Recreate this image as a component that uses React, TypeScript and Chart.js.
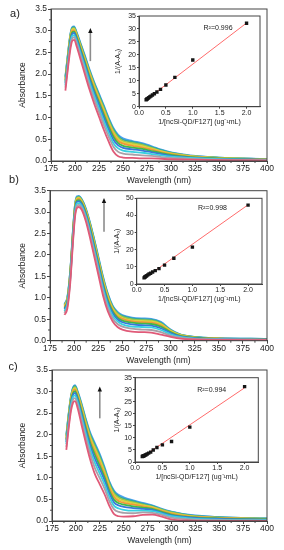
import React, { useEffect, useRef } from 'react';
import { Chart, registerables } from 'chart.js';
Chart.register(...registerables);

const FONT = "'Liberation Sans', Arial, Helvetica, sans-serif";
const INK = '#222222';
const FRAME = '#444444';
const PAGE_W = 284;
const PAGE_H = 550;

// ---------- tick labels ----------
const mainXTicks = [175, 200, 225, 250, 275, 300, 325, 350, 375, 400];
const mainYTicks = [0, 0.5, 1, 1.5, 2, 2.5, 3, 3.5];
const insetXTicks = [0, 0.5, 1, 1.5, 2];
const insetYTicksA = [0, 5, 10, 15, 20, 25, 30, 35];
const insetYTicksB = [0, 10, 20, 30, 40, 50];
const insetYTicksC = [0, 5, 10, 15, 20, 25, 30, 35];

// ---------- panel a spectra ----------
const waveA = [190, 193, 195, 197, 199, 202, 206, 210, 215, 220, 225, 230, 235, 240, 245, 250, 260, 270, 280, 290, 300, 320, 350, 400];
const absA0 = [1.62, 2.20, 2.55, 2.76, 2.79, 2.62, 2.32, 2.02, 1.65, 1.32, 1.02, 0.72, 0.45, 0.22, 0.11, 0.08, 0.07, 0.06, 0.06, 0.05, 0.04, 0.03, 0.02, 0.01];
const absA1 = [1.69, 2.27, 2.62, 2.82, 2.85, 2.69, 2.40, 2.11, 1.74, 1.42, 1.13, 0.83, 0.56, 0.33, 0.21, 0.17, 0.15, 0.13, 0.12, 0.09, 0.07, 0.05, 0.03, 0.02];
const absA2 = [1.74, 2.33, 2.68, 2.88, 2.90, 2.74, 2.46, 2.18, 1.82, 1.50, 1.21, 0.92, 0.65, 0.41, 0.29, 0.24, 0.21, 0.19, 0.16, 0.13, 0.10, 0.07, 0.04, 0.02];
const absA3 = [1.79, 2.38, 2.73, 2.92, 2.95, 2.79, 2.51, 2.24, 1.89, 1.57, 1.29, 1.00, 0.73, 0.49, 0.36, 0.30, 0.27, 0.24, 0.20, 0.16, 0.12, 0.08, 0.05, 0.03];
const absA4 = [1.83, 2.42, 2.77, 2.96, 2.98, 2.83, 2.56, 2.29, 1.94, 1.63, 1.35, 1.07, 0.79, 0.56, 0.41, 0.35, 0.31, 0.28, 0.23, 0.18, 0.14, 0.09, 0.06, 0.03];
const absA5 = [1.86, 2.45, 2.80, 2.99, 3.01, 2.86, 2.59, 2.33, 1.99, 1.68, 1.40, 1.12, 0.85, 0.61, 0.46, 0.40, 0.35, 0.31, 0.26, 0.20, 0.16, 0.10, 0.06, 0.03];
const absA6 = [1.88, 2.48, 2.83, 3.02, 3.04, 2.88, 2.62, 2.36, 2.03, 1.72, 1.44, 1.17, 0.89, 0.65, 0.50, 0.43, 0.38, 0.34, 0.28, 0.22, 0.17, 0.11, 0.07, 0.04];
const absA7 = [1.91, 2.51, 2.86, 3.04, 3.06, 2.91, 2.65, 2.39, 2.06, 1.76, 1.48, 1.21, 0.93, 0.69, 0.54, 0.46, 0.41, 0.37, 0.30, 0.23, 0.18, 0.12, 0.07, 0.04];
const absA8 = [1.93, 2.53, 2.88, 3.06, 3.08, 2.93, 2.68, 2.42, 2.09, 1.79, 1.52, 1.25, 0.97, 0.73, 0.57, 0.49, 0.44, 0.39, 0.32, 0.25, 0.19, 0.12, 0.08, 0.04];
const absA9 = [1.95, 2.55, 2.90, 3.08, 3.10, 2.95, 2.70, 2.45, 2.12, 1.82, 1.55, 1.28, 1.00, 0.76, 0.60, 0.52, 0.46, 0.41, 0.34, 0.26, 0.20, 0.13, 0.08, 0.045];

// ---------- panel b spectra ----------
const waveB = [190, 193, 196, 199, 201, 203, 205, 208, 212, 216, 220, 225, 230, 235, 240, 245, 250, 260, 270, 280, 290, 300, 310, 325, 350, 400];
const absB0 = [0.60, 0.75, 1.35, 2.35, 2.90, 3.10, 3.12, 3.05, 2.80, 2.45, 2.05, 1.55, 1.05, 0.68, 0.45, 0.32, 0.26, 0.21, 0.20, 0.19, 0.14, 0.09, 0.05, 0.03, 0.02, 0.01];
const absB1 = [0.65, 0.80, 1.41, 2.41, 2.96, 3.15, 3.17, 3.10, 2.86, 2.52, 2.13, 1.64, 1.14, 0.76, 0.52, 0.39, 0.33, 0.28, 0.26, 0.25, 0.20, 0.12, 0.07, 0.04, 0.03, 0.02];
const absB2 = [0.69, 0.85, 1.46, 2.46, 3.01, 3.20, 3.21, 3.14, 2.91, 2.58, 2.19, 1.71, 1.21, 0.83, 0.58, 0.45, 0.38, 0.33, 0.32, 0.31, 0.25, 0.15, 0.09, 0.05, 0.03, 0.02];
const absB3 = [0.73, 0.89, 1.50, 2.50, 3.05, 3.24, 3.25, 3.18, 2.95, 2.63, 2.25, 1.77, 1.28, 0.89, 0.64, 0.50, 0.43, 0.38, 0.36, 0.35, 0.29, 0.18, 0.10, 0.06, 0.04, 0.03];
const absB4 = [0.76, 0.92, 1.54, 2.54, 3.09, 3.27, 3.28, 3.21, 2.99, 2.67, 2.30, 1.82, 1.33, 0.94, 0.68, 0.54, 0.47, 0.42, 0.40, 0.39, 0.33, 0.20, 0.11, 0.07, 0.04, 0.03];
const absB5 = [0.79, 0.94, 1.57, 2.57, 3.12, 3.29, 3.31, 3.23, 3.02, 2.70, 2.34, 1.86, 1.37, 0.98, 0.72, 0.57, 0.51, 0.45, 0.43, 0.42, 0.36, 0.21, 0.12, 0.07, 0.05, 0.03];
const absB6 = [0.81, 0.97, 1.59, 2.59, 3.14, 3.32, 3.33, 3.25, 3.04, 2.73, 2.37, 1.89, 1.41, 1.02, 0.75, 0.60, 0.53, 0.47, 0.46, 0.45, 0.38, 0.23, 0.13, 0.08, 0.05, 0.03];
const absB7 = [0.83, 0.99, 1.61, 2.61, 3.16, 3.33, 3.35, 3.27, 3.06, 2.76, 2.40, 1.92, 1.44, 1.05, 0.77, 0.63, 0.56, 0.50, 0.48, 0.47, 0.40, 0.24, 0.14, 0.08, 0.05, 0.04];
const absB8 = [0.84, 1.00, 1.63, 2.63, 3.18, 3.35, 3.36, 3.29, 3.08, 2.78, 2.43, 1.95, 1.47, 1.08, 0.80, 0.65, 0.58, 0.52, 0.50, 0.49, 0.42, 0.25, 0.14, 0.09, 0.06, 0.04];
const absB9 = [0.86, 1.02, 1.65, 2.65, 3.20, 3.37, 3.38, 3.30, 3.10, 2.80, 2.45, 1.98, 1.50, 1.10, 0.82, 0.67, 0.60, 0.54, 0.52, 0.51, 0.44, 0.26, 0.15, 0.09, 0.06, 0.04];

// ---------- panel c spectra ----------
const waveC = [190, 193, 195, 197, 199, 202, 206, 210, 215, 220, 225, 230, 235, 240, 245, 250, 260, 270, 280, 290, 300, 320, 350, 400];
const absC0 = [1.65, 2.25, 2.57, 2.74, 2.78, 2.60, 2.22, 1.85, 1.42, 1.08, 0.85, 0.62, 0.35, 0.16, 0.11, 0.10, 0.11, 0.14, 0.15, 0.10, 0.04, 0.01, 0.00, 0.00];
const absC1 = [1.72, 2.32, 2.64, 2.81, 2.85, 2.68, 2.32, 1.96, 1.55, 1.22, 0.99, 0.75, 0.46, 0.27, 0.21, 0.19, 0.18, 0.20, 0.19, 0.14, 0.08, 0.04, 0.02, 0.01];
const absC2 = [1.78, 2.38, 2.70, 2.87, 2.91, 2.74, 2.40, 2.05, 1.65, 1.34, 1.10, 0.85, 0.56, 0.35, 0.29, 0.26, 0.24, 0.24, 0.23, 0.17, 0.11, 0.06, 0.03, 0.02];
const absC3 = [1.83, 2.43, 2.75, 2.92, 2.97, 2.80, 2.47, 2.13, 1.74, 1.44, 1.20, 0.94, 0.64, 0.43, 0.36, 0.33, 0.30, 0.28, 0.26, 0.19, 0.13, 0.08, 0.05, 0.03];
const absC4 = [1.87, 2.47, 2.79, 2.96, 3.01, 2.85, 2.53, 2.19, 1.81, 1.53, 1.28, 1.01, 0.70, 0.49, 0.41, 0.38, 0.34, 0.31, 0.28, 0.21, 0.15, 0.09, 0.06, 0.04];
const absC5 = [1.90, 2.50, 2.82, 3.00, 3.05, 2.89, 2.58, 2.25, 1.87, 1.60, 1.35, 1.07, 0.76, 0.55, 0.46, 0.42, 0.38, 0.34, 0.30, 0.23, 0.17, 0.10, 0.07, 0.04];
const absC6 = [1.93, 2.53, 2.85, 3.03, 3.08, 2.92, 2.62, 2.29, 1.92, 1.66, 1.41, 1.12, 0.81, 0.59, 0.50, 0.46, 0.41, 0.36, 0.32, 0.24, 0.18, 0.11, 0.07, 0.05];
const absC7 = [1.96, 2.56, 2.88, 3.05, 3.10, 2.95, 2.66, 2.33, 1.97, 1.71, 1.46, 1.17, 0.85, 0.63, 0.54, 0.49, 0.43, 0.38, 0.33, 0.26, 0.20, 0.12, 0.08, 0.05];
const absC8 = [1.98, 2.58, 2.90, 3.08, 3.13, 2.98, 2.69, 2.37, 2.01, 1.76, 1.51, 1.21, 0.89, 0.67, 0.57, 0.52, 0.46, 0.40, 0.35, 0.27, 0.21, 0.13, 0.09, 0.06];
const absC9 = [2.00, 2.60, 2.92, 3.10, 3.15, 3.00, 2.72, 2.40, 2.05, 1.80, 1.55, 1.25, 0.92, 0.70, 0.60, 0.55, 0.48, 0.42, 0.36, 0.28, 0.22, 0.14, 0.09, 0.06];

const seriesColors = ['#e05a78', '#a8a0a8', '#38d0e0', '#3878d8', '#40b848', '#f09838', '#e0d040', '#98c848', '#30a8a0', '#4aa0f0'];

// ---------- inset (double reciprocal) data ----------
const invConc = [2.0, 1.0, 0.667, 0.5, 0.4, 0.333, 0.286, 0.25, 0.222, 0.2, 0.182, 0.167, 0.154, 0.143, 0.133];
const invDA = [32.2, 18.0, 11.3, 8.4, 6.7, 5.7, 5.0, 4.5, 4.1, 3.8, 3.5, 3.2, 3.0, 2.85, 2.7];
const invDB = [46.0, 21.5, 15.0, 11.0, 9.0, 7.8, 7.0, 6.3, 5.8, 5.3, 4.9, 4.5, 4.2, 3.9, 3.6];
const invDC = [31.3, 14.5, 8.5, 7.1, 6.0, 5.0, 4.1, 3.7, 3.3, 3.0, 2.8, 2.6, 2.5, 2.4, 2.3];
const fitXA = [0.13, 2.0];
const fitYA = [2.6, 32.3];
const fitXB = [0.13, 2.0];
const fitYB = [3.2, 46.2];
const fitXC = [0.14, 2.0];
const fitYC = [2.2, 30.8];

type Area = { l: number; t: number; r: number; b: number };

const panels = [
  { label: 'a)', labelX: 15, labelY: 14, area: { l: 51, t: 9, r: 267, b: 161 }, wave: waveA,
    series: [absA0, absA1, absA2, absA3, absA4, absA5, absA6, absA7, absA8, absA9], arrow: { x: 216, from: 2.3, to: 3.06 } },
  { label: 'b)', labelX: 14, labelY: 180, area: { l: 50, t: 190.7, r: 267, b: 340.7 }, wave: waveB,
    series: [absB0, absB1, absB2, absB3, absB4, absB5, absB6, absB7, absB8, absB9], arrow: { x: 231, from: 2.54, to: 3.33 } },
  { label: 'c)', labelX: 13, labelY: 367, area: { l: 52, t: 370, r: 267, b: 521 }, wave: waveC,
    series: [absC0, absC1, absC2, absC3, absC4, absC5, absC6, absC7, absC8, absC9], arrow: { x: 225, from: 2.38, to: 3.12 } },
];

const insets = [
  { area: { l: 139, t: 16, r: 260, b: 106.7 }, yMax: 35, yTicks: insetYTicksA, ys: invDA, fitX: fitXA, fitY: fitYA, r2: 'R\u00B2=0.996', r2x: 1.47, r2y: 30.5, titlePad: 3.8 },
  { area: { l: 136.7, t: 198.3, r: 262, b: 284 }, yMax: 50, yTicks: insetYTicksB, ys: invDB, fitX: fitXB, fitY: fitYB, r2: 'R\u00B2=0.998', r2x: 1.36, r2y: 44.2, titlePad: 5.1 },
  { area: { l: 135, t: 377.7, r: 258.3, b: 462 }, yMax: 35, yTicks: insetYTicksC, ys: invDC, fitX: fitXC, fitY: fitYC, r2: 'R\u00B2=0.994', r2x: 1.40, r2y: 29.8, titlePad: 6.8 },
];

function fixedLayout(area: Area, yW: number, xH: number) {
  return { padding: { left: area.l - yW, top: area.t, right: PAGE_W - area.r, bottom: PAGE_H - area.b - xH } };
}

function axisStyle(tickLen: number) {
  return {
    grid: { display: true, drawOnChartArea: false, drawTicks: true, tickLength: tickLen, color: FRAME, lineWidth: 1 },
    border: { display: true, color: FRAME, width: 1 },
  };
}

function mainConfig(p: any) {
  const yW = p.area.l;
  const xH = 29;
  const decor = {
    id: 'decorMain',
    afterDraw(chart: any) {
      const ctx = chart.ctx;
      const { left, right, top, bottom } = chart.chartArea;
      const xs = chart.scales.x;
      const ys = chart.scales.y;
      ctx.save();
      ctx.strokeStyle = FRAME;
      ctx.lineWidth = 1;
      ctx.strokeRect(left, top, right - left, bottom - top);
      // minor ticks
      ctx.beginPath();
      for (let i = 0; i < mainXTicks.length - 1; i++) {
        const px = xs.getPixelForValue((mainXTicks[i] + mainXTicks[i + 1]) / 2);
        ctx.moveTo(px, bottom);
        ctx.lineTo(px, bottom + 2);
      }
      for (let i = 0; i < mainYTicks.length - 1; i++) {
        const py = ys.getPixelForValue((mainYTicks[i] + mainYTicks[i + 1]) / 2);
        ctx.moveTo(left, py);
        ctx.lineTo(left - 2, py);
      }
      ctx.stroke();
      // arrow
      const ax = xs.getPixelForValue(p.arrow.x);
      const y0 = ys.getPixelForValue(p.arrow.from);
      const y1 = ys.getPixelForValue(p.arrow.to);
      ctx.strokeStyle = '#8c8c8c';
      ctx.lineWidth = 1.6;
      ctx.beginPath();
      ctx.moveTo(ax, y0);
      ctx.lineTo(ax, y1 + 4);
      ctx.stroke();
      ctx.fillStyle = '#111';
      ctx.beginPath();
      ctx.moveTo(ax, y1);
      ctx.lineTo(ax - 2.2, y1 + 5);
      ctx.lineTo(ax + 2.2, y1 + 5);
      ctx.closePath();
      ctx.fill();
      // panel label
      ctx.fillStyle = INK;
      ctx.font = `11px ${FONT}`;
      ctx.textAlign = 'center';
      ctx.textBaseline = 'middle';
      ctx.fillText(p.label, p.labelX, p.labelY);
      ctx.restore();
    },
  };
  return {
    type: 'line',
    data: {
      datasets: p.series.map((s: number[], k: number) => ({
        data: p.wave.map((w: number, i: number) => ({ x: w, y: s[i] })),
        borderColor: seriesColors[k],
        backgroundColor: seriesColors[k],
        borderWidth: 1.8,
        pointRadius: 0,
        fill: false,
        cubicInterpolationMode: 'monotone',
      })),
    },
    options: {
      animation: false,
      responsive: false,
      devicePixelRatio: 1,
      events: [],
      layout: fixedLayout(p.area, yW, xH),
      plugins: { legend: { display: false }, tooltip: { enabled: false } },
      scales: {
        x: {
          type: 'linear', min: 175, max: 400,
          afterBuildTicks: (s: any) => { s.ticks = mainXTicks.map((v) => ({ value: v })); },
          afterFit: (s: any) => { s.height = xH; },
          ...axisStyle(3),
          ticks: { font: { family: FONT, size: 8.5 }, color: INK, padding: 0, maxRotation: 0, autoSkip: false },
          title: { display: true, text: 'Wavelength (nm)', color: INK, font: { family: FONT, size: 8.5 }, padding: { top: 0, bottom: 4 } },
        },
        y: {
          type: 'linear', min: 0, max: 3.5,
          afterBuildTicks: (s: any) => { s.ticks = mainYTicks.map((v) => ({ value: v })); },
          afterFit: (s: any) => { s.width = yW; },
          ...axisStyle(3),
          ticks: { font: { family: FONT, size: 8.5 }, color: INK, padding: 1, callback: (v: any) => Number(v).toFixed(1) },
          title: { display: true, text: 'Absorbance', color: INK, font: { family: FONT, size: 8.5 }, padding: { top: 17.5, bottom: 0 } },
        },
      },
    },
    plugins: [decor],
  };
}

function insetConfig(q: any) {
  const yW = 29;
  const xH = 21;
  const decor = {
    id: 'decorInset',
    afterDraw(chart: any) {
      const ctx = chart.ctx;
      const { left, right, top, bottom } = chart.chartArea;
      ctx.save();
      ctx.strokeStyle = FRAME;
      ctx.lineWidth = 1;
      ctx.strokeRect(left, top, right - left, bottom - top);
      ctx.fillStyle = INK;
      ctx.font = `7px ${FONT}`;
      ctx.textAlign = 'center';
      ctx.textBaseline = 'middle';
      ctx.fillText(q.r2, chart.scales.x.getPixelForValue(q.r2x), chart.scales.y.getPixelForValue(q.r2y));
      ctx.restore();
    },
  };
  return {
    type: 'scatter',
    data: {
      datasets: [
        {
          data: invConc.map((x, i) => ({ x, y: q.ys[i] })),
          pointStyle: 'rect',
          pointRadius: 2.4,
          backgroundColor: '#151515',
          borderColor: '#151515',
          borderWidth: 0,
          order: 0,
        },
        {
          data: q.fitX.map((x: number, i: number) => ({ x, y: q.fitY[i] })),
          showLine: true,
          borderColor: '#ff6b6b',
          borderWidth: 1,
          pointRadius: 0,
          order: 1,
        },
      ],
    },
    options: {
      animation: false,
      responsive: false,
      devicePixelRatio: 1,
      events: [],
      layout: fixedLayout(q.area, yW, xH),
      plugins: { legend: { display: false }, tooltip: { enabled: false } },
      scales: {
        x: {
          type: 'linear', min: 0, max: 2.25,
          afterBuildTicks: (s: any) => { s.ticks = insetXTicks.map((v) => ({ value: v })); },
          afterFit: (s: any) => { s.height = xH; },
          ...axisStyle(2),
          ticks: { font: { family: FONT, size: 7 }, color: INK, padding: 0, maxRotation: 0, autoSkip: false, callback: (v: any) => Number(v).toFixed(1) },
          title: { display: true, text: '1/[ncSi-QD/F127] (ug\u207B\u00B9mL)', color: INK, font: { family: FONT, size: 7 }, padding: { top: 0, bottom: 1.5 } },
        },
        y: {
          type: 'linear', min: 0, max: q.yMax,
          afterBuildTicks: (s: any) => { s.ticks = q.yTicks.map((v: number) => ({ value: v })); },
          afterFit: (s: any) => { s.width = yW; },
          ...axisStyle(2),
          ticks: { font: { family: FONT, size: 7 }, color: INK, padding: 1 },
          title: { display: true, text: '1/(A-A\u2080)', color: INK, font: { family: FONT, size: 7 }, padding: { top: q.titlePad, bottom: 0 } },
        },
      },
    },
    plugins: [decor],
  };
}

export default function App() {
  const refs = useRef<(HTMLCanvasElement | null)[]>([]);
  useEffect(() => {
    const charts: Chart[] = [];
    const cfgs = [...panels.map(mainConfig), ...insets.map(insetConfig)];
    cfgs.forEach((cfg, i) => {
      const c = refs.current[i];
      if (c) charts.push(new Chart(c, cfg as any));
    });
    return () => charts.forEach((c) => c.destroy());
  }, []);
  return (
    <div style={{ position: 'absolute', left: 0, top: 0, width: PAGE_W, height: PAGE_H, background: '#ffffff', overflow: 'hidden' }}>
      {[0, 1, 2, 3, 4, 5].map((i) => (
        <canvas
          key={i}
          ref={(el) => { refs.current[i] = el; }}
          width={PAGE_W}
          height={PAGE_H}
          style={{ position: 'absolute', left: 0, top: 0, width: PAGE_W, height: PAGE_H }}
        />
      ))}
    </div>
  );
}
